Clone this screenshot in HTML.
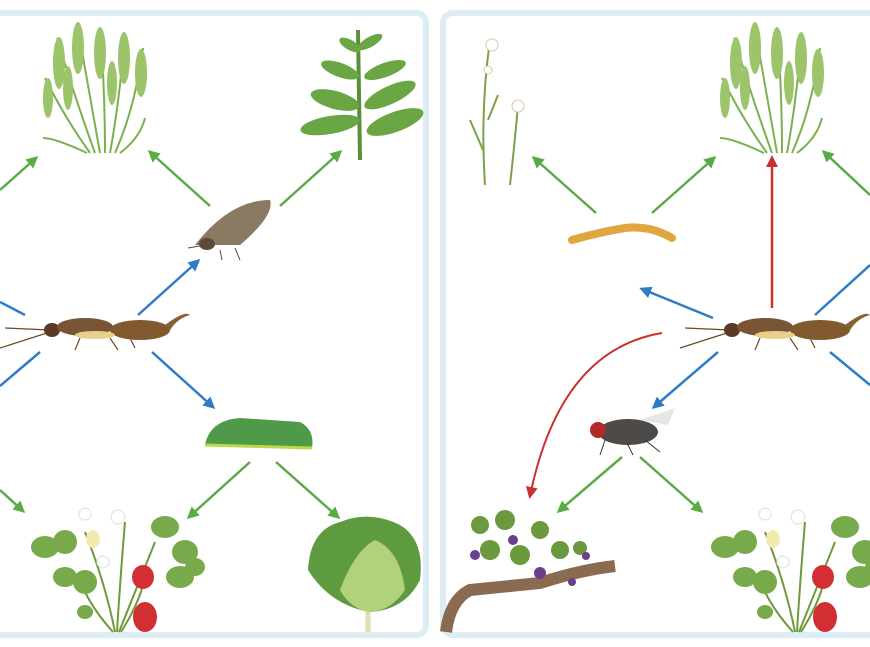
<!DOCTYPE html>
<html><head><meta charset="utf-8"><style>html,body{margin:0;padding:0;background:#fff;width:870px;height:647px;overflow:hidden}</style></head>
<body>
<svg width="870" height="647" viewBox="0 0 870 647" xmlns="http://www.w3.org/2000/svg">
<defs>
<marker id="g" markerWidth="12" markerHeight="12" refX="9" refY="6" orient="auto" markerUnits="userSpaceOnUse" viewBox="0 0 12 12"><path d="M0,0 L12,6 L0,12 Z" fill="#5aab46"/></marker>
<marker id="b" markerWidth="12" markerHeight="12" refX="9" refY="6" orient="auto" markerUnits="userSpaceOnUse" viewBox="0 0 12 12"><path d="M0,0 L12,6 L0,12 Z" fill="#2f7cc6"/></marker>
<marker id="r" markerWidth="12" markerHeight="12" refX="9" refY="6" orient="auto" markerUnits="userSpaceOnUse" viewBox="0 0 12 12"><path d="M0,0 L12,6 L0,12 Z" fill="#c8312f"/></marker>
<g id="wheat">
<g stroke="#7bb04f" stroke-width="2" fill="none">
<path d="M0,135 Q-20,80 -38,20"/><path d="M5,135 Q-5,80 -18,5"/><path d="M10,135 Q10,70 5,10"/><path d="M15,135 Q25,80 30,15"/><path d="M20,135 Q40,90 48,30"/><path d="M-5,135 Q-30,100 -50,60"/><path d="M-8,135 Q-40,120 -52,120"/><path d="M25,135 Q45,120 50,100"/>
</g>
<g fill="#9cc46a">
<ellipse cx="-36" cy="45" rx="6" ry="26"/><ellipse cx="-17" cy="30" rx="6" ry="26"/><ellipse cx="5" cy="35" rx="6" ry="26"/><ellipse cx="29" cy="40" rx="6" ry="26"/><ellipse cx="46" cy="55" rx="6" ry="24"/><ellipse cx="-47" cy="80" rx="5" ry="20"/><ellipse cx="-27" cy="70" rx="5" ry="22"/><ellipse cx="17" cy="65" rx="5" ry="22"/>
</g>
</g>
<g id="straw">
<g stroke="#6e9a3c" stroke-width="2" fill="none"><path d="M90,130 Q80,80 60,30"/><path d="M92,130 Q95,80 100,20"/><path d="M94,130 Q110,90 130,40"/><path d="M96,130 Q115,100 120,75"/><path d="M88,130 Q70,110 60,90"/></g>
<g fill="#78a94a">
<ellipse cx="20" cy="45" rx="14" ry="11"/><ellipse cx="40" cy="40" rx="12" ry="12"/><ellipse cx="140" cy="25" rx="14" ry="11"/><ellipse cx="160" cy="50" rx="13" ry="12"/><ellipse cx="40" cy="75" rx="12" ry="10"/><ellipse cx="60" cy="80" rx="12" ry="12"/><ellipse cx="155" cy="75" rx="14" ry="11"/><ellipse cx="170" cy="65" rx="10" ry="9"/><ellipse cx="60" cy="110" rx="8" ry="7"/>
</g>
<g fill="#fff" stroke="#ddd"><circle cx="60" cy="12" r="6"/><circle cx="93" cy="15" r="7"/><circle cx="78" cy="60" r="6"/></g>
<ellipse cx="68" cy="37" rx="7" ry="9" fill="#f3eab0"/>
<g fill="#d12f34"><ellipse cx="118" cy="75" rx="11" ry="12"/><ellipse cx="120" cy="115" rx="12" ry="15"/></g>
</g>
<g id="earwig">
<g stroke="#6a4a2a" stroke-width="1.2" fill="none"><path d="M50,20 L5,18"/><path d="M50,22 L0,38"/><path d="M80,28 L75,40"/><path d="M110,28 L118,40"/><path d="M130,28 L135,38"/></g>
<ellipse cx="52" cy="20" rx="8" ry="7" fill="#5a3a24"/>
<ellipse cx="85" cy="17" rx="28" ry="9" fill="#7a5535"/>
<ellipse cx="140" cy="20" rx="30" ry="10" fill="#80592f"/>
<path d="M165,15 Q185,0 190,5 Q178,8 170,20 Z" fill="#8a6135"/>
<ellipse cx="95" cy="25" rx="20" ry="4" fill="#e8d08a"/>
</g>
</defs>

<rect x="-20" y="13" width="446" height="622" rx="10" fill="none" stroke="#dcedf3" stroke-width="6"/>
<rect x="443" y="13" width="450" height="622" rx="10" fill="none" stroke="#dcedf3" stroke-width="6"/>

<use href="#wheat" x="95" y="18"/>
<g>
<path d="M360,160 L358,30" stroke="#5a8f3a" stroke-width="4"/>
<g fill="#6aa644"><ellipse cx="330" cy="125" rx="30" ry="9" transform="rotate(-10 330 125)"/><ellipse cx="395" cy="122" rx="30" ry="10" transform="rotate(-20 395 122)"/><ellipse cx="335" cy="100" rx="25" ry="9" transform="rotate(15 335 100)"/><ellipse cx="390" cy="95" rx="28" ry="9" transform="rotate(-25 390 95)"/><ellipse cx="340" cy="70" rx="20" ry="7" transform="rotate(20 340 70)"/><ellipse cx="385" cy="70" rx="22" ry="7" transform="rotate(-20 385 70)"/><ellipse cx="350" cy="45" rx="12" ry="5" transform="rotate(30 350 45)"/><ellipse cx="370" cy="42" rx="14" ry="5" transform="rotate(-30 370 42)"/></g>
</g>
<g><path d="M195,245 Q230,200 270,200 Q275,215 240,245 Z" fill="#8b7a62"/><ellipse cx="207" cy="244" rx="8" ry="6" fill="#5b4a38"/><g stroke="#5b4a38" stroke-width="1"><path d="M200,246 L188,248"/><path d="M220,250 L222,260"/><path d="M235,248 L240,260"/></g></g>
<use href="#earwig" x="0" y="310"/>
<g><path d="M205,445 Q210,420 240,418 L300,422 Q315,430 312,448 Z" fill="#4e9a48"/><path d="M205,445 L312,448" stroke="#b9d84a" stroke-width="3"/></g>
<use href="#straw" x="25" y="502"/>
<g><path d="M368,632 L368,600" stroke="#e3dcb0" stroke-width="5"/><path d="M308,570 Q310,530 340,522 Q370,510 400,525 Q425,540 420,580 Q405,610 370,612 Q330,605 308,570 Z" fill="#5e9a3f"/><path d="M340,590 Q355,550 375,540 Q400,550 405,590 Q390,612 368,612 Q350,608 340,590 Z" fill="#b1d27a"/></g>

<g stroke-width="2.5" fill="none">
<line x1="0" y1="190" x2="36" y2="158" stroke="#5aab46" marker-end="url(#g)"/>
<line x1="210" y1="206" x2="150" y2="152" stroke="#5aab46" marker-end="url(#g)"/>
<line x1="280" y1="206" x2="340" y2="152" stroke="#5aab46" marker-end="url(#g)"/>
<line x1="138" y1="315" x2="198" y2="261" stroke="#2f7cc6" marker-end="url(#b)"/>
<line x1="25" y1="315" x2="0" y2="302" stroke="#2f7cc6"/>
<line x1="40" y1="352" x2="0" y2="386" stroke="#2f7cc6"/>
<line x1="152" y1="352" x2="213" y2="407" stroke="#2f7cc6" marker-end="url(#b)"/>
<line x1="0" y1="490" x2="23" y2="511" stroke="#5aab46" marker-end="url(#g)"/>
<line x1="250" y1="462" x2="189" y2="517" stroke="#5aab46" marker-end="url(#g)"/>
<line x1="276" y1="462" x2="338" y2="517" stroke="#5aab46" marker-end="url(#g)"/>
</g>

<g stroke="#7aa04a" stroke-width="2" fill="none"><path d="M485,185 Q480,110 490,40"/><path d="M510,185 Q515,140 518,105"/><path d="M483,150 L470,120"/><path d="M488,120 L498,95"/></g>
<g fill="#fff" stroke="#d8c9a0"><circle cx="492" cy="45" r="6"/><circle cx="488" cy="70" r="4"/><circle cx="518" cy="106" r="6"/></g>
<use href="#wheat" x="772" y="18"/>
<path d="M572,240 Q600,232 625,228 Q650,225 672,238" stroke="#e0a640" stroke-width="8" fill="none" stroke-linecap="round"/>
<use href="#earwig" x="680" y="310"/>
<g><path d="M640,420 L675,408 L668,425 Z" fill="#e6e6e6"/><ellipse cx="628" cy="432" rx="30" ry="13" fill="#4e4a48"/><circle cx="598" cy="430" r="8" fill="#b22a2a"/><g stroke="#333" stroke-width="1"><path d="M605,440 L600,455"/><path d="M627,443 L633,455"/><path d="M645,440 L660,452"/></g></g>
<g><path d="M446,632 Q450,600 470,590 L540,583 Q580,570 615,566" stroke="#8a6a50" stroke-width="12" fill="none"/>
<g fill="#6b9a3e"><circle cx="480" cy="525" r="9"/><circle cx="505" cy="520" r="10"/><circle cx="540" cy="530" r="9"/><circle cx="490" cy="550" r="10"/><circle cx="520" cy="555" r="10"/><circle cx="560" cy="550" r="9"/><circle cx="580" cy="548" r="7"/></g>
<g fill="#6b3f8c"><circle cx="475" cy="555" r="5"/><circle cx="513" cy="540" r="5"/><circle cx="540" cy="573" r="6"/><circle cx="586" cy="556" r="4"/><circle cx="572" cy="582" r="4"/></g></g>
<use href="#straw" x="705" y="502"/>

<g stroke-width="2.5" fill="none">
<line x1="596" y1="213" x2="534" y2="158" stroke="#5aab46" marker-end="url(#g)"/>
<line x1="652" y1="213" x2="714" y2="158" stroke="#5aab46" marker-end="url(#g)"/>
<line x1="772" y1="308" x2="772" y2="158" stroke="#c8312f" marker-end="url(#r)"/>
<line x1="870" y1="195" x2="824" y2="152" stroke="#5aab46" marker-end="url(#g)"/>
<line x1="713" y1="318" x2="642" y2="289" stroke="#2f7cc6" marker-end="url(#b)"/>
<line x1="815" y1="315" x2="870" y2="265" stroke="#2f7cc6"/>
<line x1="718" y1="352" x2="654" y2="407" stroke="#2f7cc6" marker-end="url(#b)"/>
<line x1="830" y1="352" x2="870" y2="385" stroke="#2f7cc6"/>
<path d="M662,333 Q560,350 530,496" stroke="#c8312f" stroke-width="2" marker-end="url(#r)"/>
<line x1="622" y1="457" x2="559" y2="511" stroke="#5aab46" marker-end="url(#g)"/>
<line x1="640" y1="457" x2="701" y2="511" stroke="#5aab46" marker-end="url(#g)"/>
</g>
</svg>
</body></html>
